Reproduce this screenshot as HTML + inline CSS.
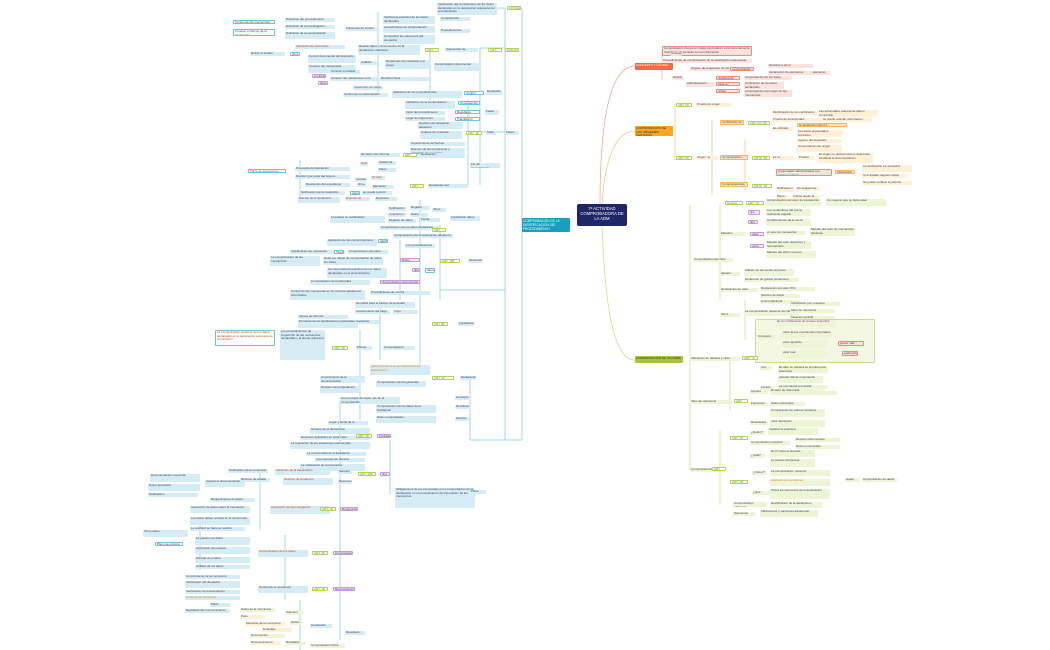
<!DOCTYPE html>
<html><head><meta charset="utf-8"><style>
body{margin:0;background:#fff;}
#c{position:relative;width:1050px;height:650px;overflow:hidden;background:#fff;font-family:"Liberation Sans",sans-serif;}
#c div{position:absolute;font-size:3px;line-height:3.6px;overflow:hidden;border-radius:1px;color:#445;padding:0 1px;box-sizing:border-box;}
.b{background:#d5ecf5;}
.bo{background:#fff;border:0.6px solid #6cc3dc;}
.r{background:#fde2dc;}
.ro{background:#fde2dc;border:0.6px solid #f08c7a;}
.o{background:#fff0d6;}
.oo{background:#ffe3b5;border:0.6px solid #f5b65c;}
.g{background:#eef4d6;}
.go{background:#fff;border:0.6px solid #b5cf5a;color:#5a9a20!important;}
.p{background:#f3e6f7;border:0.6px solid #c89ad8;}
svg{position:absolute;left:0;top:0;}
</style></head><body><div id="c">
<svg width="1050" height="650" fill="none" stroke-width="0.7">
<g stroke="#7fcbe0">
<path d="M570 225 C545 225 530 230 522 225"/>
<path d="M522 8 V440"/><path d="M505 8 V440"/>
<path d="M480 48 V185"/><path d="M430 48 V100"/><path d="M378 12 V95"/>
<path d="M468 100 V185"/><path d="M420 200 V375"/><path d="M440 225 V300"/>
<path d="M300 160 V200"/><path d="M400 240 V300"/><path d="M380 300 V360"/>
<path d="M470 380 V440"/><path d="M390 440 V495"/><path d="M360 330 V420"/>
<path d="M340 400 V640"/><path d="M260 470 V530"/><path d="M285 535 V600"/>
<path d="M300 600 V650"/><path d="M200 520 V570"/>
<path d="M522 440 H470"/><path d="M505 8 H495"/><path d="M505 48 H480"/><path d="M505 132 H480"/><path d="M505 290 H440"/>
</g>
<g stroke="#f4a08c"><path d="M600 204 C600 120 610 66 635 66"/><path d="M672 66 H662 M662 50 V80"/></g>
<g stroke="#f7c27a"><path d="M602 204 C605 160 615 131 635 131"/><path d="M675 104 V160 M712 120 V195 M745 140 V190"/></g>
<g stroke="#cddc7a"><path d="M602 226 C605 300 612 360 635 360"/><path d="M690 205 V470 M720 205 V300 M745 300 V340 M730 360 V410 M720 430 V505"/></g>
</svg>

<!-- center -->
<div style="left:577px;top:204px;width:50px;height:22px;background:#1f2668;color:#fff;font-size:4.2px;line-height:5px;text-align:center;padding-top:2px;border-radius:2px">7ª ACTIVIDAD COMPROBADORA DE LA ADM</div>
<div style="left:522px;top:218px;width:48px;height:14px;background:#189fbf;color:#fff;font-size:3.2px;line-height:3.8px;padding-top:2px">COMPROBACIÓN DE LA IDENTIFICACIÓN DEL PROCEDIMIENTO</div>
<div style="left:635px;top:63px;width:38px;height:7px;background:#f26b4d;color:#fff;padding-top:1px">CONCEPTO Y GLOBAL</div>
<div style="left:635px;top:126px;width:38px;height:10px;background:#f5a623;color:#333;padding-top:1px">COMPROBACIÓN DE LOS ORIGENES VENTANAS</div>
<div style="left:635px;top:356px;width:48px;height:7px;background:#a9c43b;color:#333;padding-top:1px">COMPROBACIÓN DE VALORES</div>

<!-- red branch -->
<div class="ro" style="left:662px;top:46px;width:90px;height:10px">Comprobación de que el código de producto está correctamente clasificado de acuerdo con la información</div>
<div class="r" style="left:662px;top:59px;width:90px;height:4px">Procedimiento de comprobación de la clasificación arancelaria</div>
<div class="r" style="left:670px;top:52px;width:12px;height:4px">Concepto</div>
<div class="r" style="left:690px;top:67px;width:50px;height:4px">Órgano de inspección de los Tributos</div>
<div class="ro" style="left:730px;top:67px;width:24px;height:4px">comprobación</div>
<div class="r" style="left:768px;top:64px;width:45px;height:4px">Revisión a priori</div>
<div class="r" style="left:768px;top:71px;width:50px;height:4px">declaración de elementos</div>
<div class="r" style="left:812px;top:71px;width:18px;height:4px">elemento</div>
<div class="r" style="left:672px;top:76px;width:12px;height:4px">Global</div>
<div class="r" style="left:686px;top:82px;width:28px;height:5px">Administración</div>
<div class="ro" style="left:716px;top:76px;width:24px;height:4px">clasificación</div>
<div class="ro" style="left:716px;top:82px;width:24px;height:4px">valor en aduana</div>
<div class="ro" style="left:716px;top:89px;width:24px;height:4px">origen</div>
<div class="r" style="left:744px;top:76px;width:48px;height:4px">comprobación de los datos</div>
<div class="r" style="left:744px;top:82px;width:40px;height:7px">verificación de los datos declarados</div>
<div class="r" style="left:744px;top:90px;width:48px;height:7px">comprobación del origen de las mercancías</div>

<!-- orange -->
<div class="go" style="left:676px;top:103px;width:16px;height:4px">ART. 69 UCDC</div>
<div class="o" style="left:696px;top:103px;width:35px;height:4px">Prueba de origen preferencial</div>
<div class="oo" style="left:720px;top:120px;width:24px;height:5px">Certificados de origen</div>
<div class="go" style="left:748px;top:121px;width:22px;height:4px">ART. 64 / 65 UCDC</div>
<div class="o" style="left:772px;top:111px;width:45px;height:4px">Modificación de los certificados</div>
<div class="o" style="left:818px;top:110px;width:60px;height:7px">Las autoridades aduaneras deben comprobar</div>
<div class="o" style="left:772px;top:118px;width:50px;height:4px">Prueba de autenticidad</div>
<div class="o" style="left:822px;top:118px;width:50px;height:4px">se puede solicitar información</div>
<div class="o" style="left:772px;top:127px;width:20px;height:4px">Es utilizado para</div>
<div class="oo" style="left:797px;top:123px;width:50px;height:4px">la declaración del CT</div>
<div class="o" style="left:797px;top:130px;width:45px;height:7px">Los datos presentados coinciden</div>
<div class="o" style="left:797px;top:139px;width:45px;height:4px">registro del despacho</div>
<div class="o" style="left:797px;top:145px;width:45px;height:7px">comprobación de origen</div>
<div class="go" style="left:676px;top:156px;width:16px;height:4px">ART. 59 UCDC</div>
<div class="o" style="left:696px;top:156px;width:22px;height:4px">Origen no preferente</div>
<div class="oo" style="left:720px;top:155px;width:28px;height:5px">Comprobación del origen</div>
<div class="go" style="left:752px;top:156px;width:18px;height:4px">ARTS. 59-63</div>
<div class="o" style="left:772px;top:156px;width:22px;height:4px">es no preferente</div>
<div class="o" style="left:798px;top:156px;width:16px;height:4px">Prueba</div>
<div class="o" style="left:818px;top:153px;width:55px;height:10px">El origen no preferencial se determina mediante la documentación</div>
<div class="ro" style="left:776px;top:169px;width:56px;height:7px">Cooperación administrativa con terceros países</div>
<div class="oo" style="left:835px;top:170px;width:20px;height:4px">Verificación</div>
<div class="o" style="left:862px;top:165px;width:50px;height:7px">La verificación es necesaria</div>
<div class="o" style="left:862px;top:174px;width:45px;height:4px">Si el Estado requiere datos</div>
<div class="o" style="left:862px;top:181px;width:50px;height:4px">Se puede verificar el país de exportación</div>
<div class="oo" style="left:720px;top:182px;width:28px;height:5px">Comprobaciones posteriores</div>
<div class="go" style="left:752px;top:184px;width:20px;height:4px">ARTS. 48 UCDC</div>
<div class="o" style="left:776px;top:187px;width:18px;height:5px">Notificación</div>
<div class="o" style="left:796px;top:187px;width:24px;height:4px">sin aceptar las notificaciones</div>
<div class="o" style="left:776px;top:195px;width:12px;height:4px">Plazo</div>
<div class="o" style="left:792px;top:195px;width:28px;height:4px">3 años desde la exportación</div>

<!-- green -->
<div class="g" style="left:693px;top:258px;width:40px;height:4px">Comprobación del valor</div>
<div class="go" style="left:725px;top:201px;width:18px;height:4px">Hechos</div>
<div class="go" style="left:746px;top:201px;width:18px;height:4px">ART. 70 UCDC</div>
<div class="g" style="left:766px;top:199px;width:55px;height:7px">Comprobación del valor de transacción</div>
<div class="g" style="left:826px;top:199px;width:60px;height:7px">Un negocio que se debe tasar</div>
<div class="p" style="left:748px;top:210px;width:12px;height:5px">tipo</div>
<div class="g" style="left:766px;top:209px;width:45px;height:7px">Los vendedores del precio realmente pagado</div>
<div class="p" style="left:748px;top:220px;width:10px;height:4px">tipo</div>
<div class="g" style="left:766px;top:219px;width:45px;height:7px">condicionantes de la venta</div>
<div class="g" style="left:720px;top:232px;width:26px;height:4px">Métodos</div>
<div class="p" style="left:750px;top:232px;width:14px;height:4px">valor</div>
<div class="g" style="left:766px;top:231px;width:40px;height:4px">el valor de transacción</div>
<div class="g" style="left:810px;top:228px;width:45px;height:8px">Método del valor de mercancías idénticas</div>
<div class="p" style="left:750px;top:244px;width:14px;height:4px">otros</div>
<div class="g" style="left:766px;top:241px;width:45px;height:8px">Método del valor deductivo y reconstruido</div>
<div class="g" style="left:766px;top:251px;width:50px;height:7px">Método del último recurso</div>
<div class="g" style="left:720px;top:272px;width:20px;height:4px">Ajustes</div>
<div class="g" style="left:744px;top:269px;width:50px;height:7px">Adición de elementos al precio</div>
<div class="g" style="left:744px;top:278px;width:55px;height:4px">Deducción de gastos posteriores</div>
<div class="g" style="left:720px;top:288px;width:38px;height:4px">Declaración de valor</div>
<div class="g" style="left:760px;top:287px;width:55px;height:4px">Declaración del valor DV1</div>
<div class="g" style="left:760px;top:294px;width:40px;height:4px">Sección de datos</div>
<div class="g" style="left:760px;top:300px;width:40px;height:4px">Anexo adicional</div>
<div class="g" style="left:720px;top:313px;width:20px;height:4px">Otros</div>
<div class="g" style="left:744px;top:310px;width:55px;height:6px">La comprobación posterior del valor</div>
<div class="g" style="left:790px;top:302px;width:50px;height:4px">Verificación por muestreo</div>
<div class="g" style="left:790px;top:309px;width:45px;height:4px">Valor de referencia</div>
<div class="g" style="left:790px;top:316px;width:45px;height:4px">Tasación pericial</div>
<div class="g" style="left:790px;top:323px;width:50px;height:4px">Estudio de la vinculación</div>
<div class="g" style="left:790px;top:330px;width:60px;height:4px">Otras comprobaciones del valor</div>
<div class="g" style="left:755px;top:319px;width:120px;height:44px;border:0.6px solid #cbdb8a;background:#f4f8e2"></div>
<div class="g" style="left:757px;top:335px;width:18px;height:4px">Concepto</div>
<div class="g" style="left:776px;top:320px;width:60px;height:7px;color:#8a3aa8!important">Es la modificación de la base imponible</div>
<div class="g" style="left:782px;top:331px;width:50px;height:7px">valor de las mercancías importadas</div>
<div class="g" style="left:782px;top:341px;width:45px;height:7px">valor ajustado</div>
<div class="ro" style="left:838px;top:341px;width:26px;height:5px">precio más elevado</div>
<div class="g" style="left:782px;top:351px;width:45px;height:7px">valor real</div>
<div class="ro" style="left:842px;top:351px;width:16px;height:5px">estimación</div>
<div class="g" style="left:690px;top:357px;width:50px;height:4px">Valoración en aduana y otros elementos</div>
<div class="go" style="left:742px;top:356px;width:16px;height:4px">ART. 70</div>
<div class="g" style="left:760px;top:366px;width:12px;height:4px">Uso</div>
<div class="g" style="left:778px;top:366px;width:50px;height:7px">El valor en aduana se emplea para aranceles</div>
<div class="g" style="left:778px;top:376px;width:45px;height:7px">calcular IVA de importación</div>
<div class="g" style="left:760px;top:386px;width:14px;height:4px">Límites</div>
<div class="g" style="left:778px;top:385px;width:50px;height:4px">La mercancía importada</div>
<div class="g" style="left:778px;top:391px;width:60px;height:4px">Comprobación del valor declarado</div>
<div class="g" style="left:690px;top:400px;width:42px;height:4px">Valor de referencia</div>
<div class="go" style="left:734px;top:399px;width:14px;height:4px">ART. 72</div>
<div class="g" style="left:750px;top:390px;width:18px;height:4px">Ajustes</div>
<div class="g" style="left:770px;top:389px;width:55px;height:6px">El valor de referencia</div>
<div class="g" style="left:750px;top:402px;width:18px;height:4px">Funciones</div>
<div class="g" style="left:770px;top:402px;width:35px;height:4px">Datos relevantes</div>
<div class="g" style="left:770px;top:409px;width:55px;height:8px">Comparación de valores similares</div>
<div class="g" style="left:750px;top:421px;width:18px;height:4px">Resultados</div>
<div class="g" style="left:770px;top:420px;width:55px;height:7px">valor declarado</div>
<div class="g" style="left:690px;top:468px;width:30px;height:4px">Comprobaciones</div>
<div class="go" style="left:712px;top:467px;width:14px;height:4px">ART. 48</div>
<div class="go" style="left:730px;top:436px;width:18px;height:4px">ART. 48 UCDC</div>
<div class="g" style="left:750px;top:431px;width:15px;height:4px">¿Quién?</div>
<div class="g" style="left:768px;top:428px;width:50px;height:7px">Verificar la exactitud</div>
<div class="g" style="left:750px;top:441px;width:40px;height:4px">Comprobación posterior</div>
<div class="g" style="left:795px;top:438px;width:45px;height:4px">Revisión documentos</div>
<div class="g" style="left:795px;top:445px;width:45px;height:4px">Datos comerciales</div>
<div class="g" style="left:750px;top:454px;width:15px;height:4px">¿Cuál?</div>
<div class="g" style="left:770px;top:450px;width:45px;height:7px">El CT tiene la facultad</div>
<div class="g" style="left:770px;top:459px;width:45px;height:8px">se podrán comprobar</div>
<div class="go" style="left:730px;top:480px;width:18px;height:4px">ART. 48 UCDC</div>
<div class="g" style="left:752px;top:471px;width:15px;height:4px">¿Cómo?</div>
<div class="g" style="left:770px;top:470px;width:60px;height:6px">La comprobación posterior</div>
<div class="g" style="left:770px;top:479px;width:60px;height:7px;color:#e08a20!important">Auditoría de la empresa</div>
<div class="g" style="left:845px;top:478px;width:15px;height:4px">sujeto</div>
<div class="g" style="left:862px;top:478px;width:35px;height:4px">comprobación de datos</div>
<div class="g" style="left:752px;top:491px;width:18px;height:4px">¿Qué datos?</div>
<div class="g" style="left:770px;top:489px;width:60px;height:10px">Todos los elementos de la declaración</div>
<div class="g" style="left:733px;top:502px;width:34px;height:5px">Comprobación adicional</div>
<div class="g" style="left:770px;top:502px;width:52px;height:6px">Rectificación de la declaración</div>
<div class="g" style="left:733px;top:512px;width:22px;height:4px">Sanciones</div>
<div class="g" style="left:760px;top:510px;width:58px;height:7px">Infracciones y sanciones aduaneras</div>

<!-- left blue tree -->
<div class="go" style="left:507px;top:6px;width:14px;height:4px">CONCEPTO</div>
<div class="b" style="left:437px;top:3px;width:60px;height:12px">Verificación del cumplimiento de los datos declarados en la declaración aduanera del procedimiento</div>
<div class="b" style="left:383px;top:16px;width:52px;height:8px">Verificar la exactitud de los datos declarados</div>
<div class="b" style="left:383px;top:26px;width:52px;height:7px">procedimiento de comprobación</div>
<div class="b" style="left:383px;top:35px;width:52px;height:9px">Comprobar los elementos del despacho</div>
<div class="b" style="left:440px;top:17px;width:30px;height:4px">Competencia</div>
<div class="b" style="left:440px;top:29px;width:30px;height:4px">Procedimientos</div>
<div class="b" style="left:345px;top:27px;width:32px;height:4px">Funciones de control</div>
<div class="b" style="left:285px;top:18px;width:50px;height:4px">Definición del procedimiento</div>
<div class="b" style="left:285px;top:25px;width:50px;height:4px">Definición de la investigación</div>
<div class="b" style="left:285px;top:32px;width:50px;height:7px">Definición de la comprobación</div>
<div class="bo" style="left:233px;top:20px;width:42px;height:4px">Control de las mercancías</div>
<div class="bo" style="left:233px;top:29px;width:42px;height:7px">Conocer el tiempo de la declaración</div>
<div class="go" style="left:488px;top:48px;width:14px;height:4px">ART. 48 UCDC</div>
<div class="go" style="left:425px;top:48px;width:14px;height:4px">ART.</div>
<div class="b" style="left:445px;top:48px;width:33px;height:4px">Adquisición de derechos</div>
<div class="go" style="left:505px;top:48px;width:14px;height:4px">Definición</div>
<div class="b" style="left:358px;top:45px;width:62px;height:10px">Revisar datos y documentos de la declaración aduanera</div>
<div class="b" style="left:295px;top:45px;width:50px;height:4px;color:#d04020!important">Aplicación de elementos</div>
<div class="bo" style="left:290px;top:52px;width:10px;height:4px">tipos</div>
<div class="b" style="left:250px;top:52px;width:35px;height:4px">Definir el ámbito</div>
<div class="b" style="left:308px;top:55px;width:48px;height:8px">Control documental del despacho</div>
<div class="b" style="left:308px;top:65px;width:48px;height:8px">Conocer las mercancías</div>
<div class="b" style="left:360px;top:61px;width:18px;height:4px">Análisis</div>
<div class="b" style="left:385px;top:60px;width:44px;height:9px">Revisiones del contenido y el origen</div>
<div class="b" style="left:434px;top:63px;width:45px;height:8px">Comprobación documental</div>
<div class="b" style="left:330px;top:70px;width:30px;height:4px">Conocer el estado</div>
<div class="b" style="left:330px;top:77px;width:50px;height:4px">Conocer las mercancías en la declaración</div>
<div class="p" style="left:312px;top:74px;width:14px;height:4px">Controles</div>
<div class="p" style="left:318px;top:81px;width:10px;height:4px">tipos</div>
<div class="b" style="left:380px;top:77px;width:50px;height:4px">Revisión física</div>
<div class="b" style="left:353px;top:86px;width:30px;height:4px;color:#8a3aa8!important">Inspección de carga</div>
<div class="b" style="left:343px;top:93px;width:45px;height:4px">Control de los documentos</div>
<div class="b" style="left:392px;top:91px;width:70px;height:7px">Aplicación de los procedimientos</div>
<div class="bo" style="left:464px;top:91px;width:20px;height:4px">Control</div>
<div class="b" style="left:486px;top:90px;width:16px;height:5px">Desarrollo</div>
<div class="b" style="left:405px;top:101px;width:50px;height:8px">Aplicación de la comprobación</div>
<div class="bo" style="left:458px;top:101px;width:22px;height:4px">Competencia</div>
<div class="b" style="left:405px;top:111px;width:40px;height:4px">Inicio del procedimiento</div>
<div class="bo" style="left:455px;top:110px;width:25px;height:4px">Resultado</div>
<div class="b" style="left:405px;top:117px;width:40px;height:4px">Lugar de inspección</div>
<div class="bo" style="left:455px;top:117px;width:25px;height:4px">Tramitación</div>
<div class="b" style="left:485px;top:110px;width:14px;height:5px">Fases</div>
<div class="b" style="left:505px;top:131px;width:14px;height:4px">Fases</div>
<div class="b" style="left:418px;top:122px;width:45px;height:7px">Revisión del despacho aduanero</div>
<div class="b" style="left:420px;top:131px;width:42px;height:8px">Análisis de muestras</div>
<div class="go" style="left:466px;top:131px;width:16px;height:4px">ART. 48</div>
<div class="b" style="left:486px;top:131px;width:10px;height:4px">Inicio</div>
<div class="b" style="left:410px;top:142px;width:55px;height:4px">Conocimiento de hechos</div>
<div class="b" style="left:410px;top:148px;width:55px;height:10px">Examen de las mercancías y extracción de muestras</div>
<div class="b" style="left:360px;top:153px;width:40px;height:4px">Remisión del informe</div>
<div class="go" style="left:403px;top:153px;width:14px;height:4px">ART. 191</div>
<div class="b" style="left:420px;top:153px;width:40px;height:4px">Resolución</div>
<div class="b" style="left:470px;top:163px;width:30px;height:5px">Fin del procedimiento</div>
<div class="b" style="left:360px;top:162px;width:8px;height:4px;color:#d04020!important">Notif.</div>
<div class="b" style="left:378px;top:161px;width:18px;height:4px">Audiencia</div>
<div class="b" style="left:378px;top:168px;width:18px;height:4px">Plazo</div>
<div class="b" style="left:295px;top:167px;width:55px;height:4px">Propuesta de liquidación</div>
<div class="bo" style="left:248px;top:169px;width:38px;height:4px;color:#c04a8a!important">Plazo de alegaciones</div>
<div class="b" style="left:295px;top:175px;width:55px;height:4px">Revisión por parte del órgano</div>
<div class="b" style="left:355px;top:178px;width:12px;height:4px">recurso</div>
<div class="b" style="left:371px;top:176px;width:14px;height:4px;color:#d04020!important">10 días</div>
<div class="b" style="left:305px;top:183px;width:45px;height:4px">Resolución del expediente</div>
<div class="b" style="left:357px;top:183px;width:10px;height:4px">firme</div>
<div class="b" style="left:372px;top:185px;width:22px;height:4px">Ejecución</div>
<div class="go" style="left:410px;top:184px;width:14px;height:4px">ART. 190</div>
<div class="b" style="left:428px;top:184px;width:40px;height:4px">Resolución del procedimiento</div>
<div class="b" style="left:300px;top:191px;width:45px;height:4px">Notificación de la resolución</div>
<div class="bo" style="left:350px;top:191px;width:10px;height:4px">plazo</div>
<div class="b" style="left:362px;top:191px;width:30px;height:4px">se puede recurrir</div>
<div class="b" style="left:298px;top:197px;width:42px;height:6px;color:#8a3aa8!important">Efectos de la liquidación</div>
<div class="b" style="left:345px;top:197px;width:25px;height:4px;color:#d04020!important">Recurso de reposición</div>
<div class="b" style="left:375px;top:197px;width:22px;height:4px">Recursos</div>
<div class="b" style="left:388px;top:207px;width:18px;height:4px">Notificación</div>
<div class="b" style="left:388px;top:213px;width:18px;height:4px;color:#8a3aa8!important">Ampliación</div>
<div class="b" style="left:410px;top:206px;width:20px;height:4px">Registro</div>
<div class="b" style="left:410px;top:213px;width:18px;height:4px">Datos</div>
<div class="b" style="left:432px;top:208px;width:14px;height:4px">Otros</div>
<div class="b" style="left:330px;top:216px;width:55px;height:7px">Los datos no rectificables</div>
<div class="b" style="left:388px;top:219px;width:28px;height:4px">Registro de datos</div>
<div class="b" style="left:420px;top:218px;width:20px;height:4px">Fecha</div>
<div class="b" style="left:450px;top:216px;width:30px;height:5px">Liquidación datos</div>
<div class="b" style="left:380px;top:226px;width:60px;height:4px">Comprobación de los datos declarados</div>
<div class="go" style="left:432px;top:228px;width:14px;height:4px">ART.</div>
<div class="b" style="left:393px;top:234px;width:60px;height:4px">Comprobación de la declaración aduanera</div>
<div class="b" style="left:327px;top:239px;width:50px;height:7px">Aplicación de las comprobaciones</div>
<div class="bo" style="left:378px;top:239px;width:10px;height:4px">AEAT</div>
<div class="b" style="left:405px;top:244px;width:30px;height:4px">Los procedimientos</div>
<div class="b" style="left:290px;top:250px;width:55px;height:4px">Clasificación de mercancía</div>
<div class="bo" style="left:334px;top:250px;width:10px;height:4px">Tipos</div>
<div class="b" style="left:348px;top:250px;width:40px;height:4px">Comprobación del valor</div>
<div class="b" style="left:270px;top:256px;width:50px;height:10px">La comprobación de las mercancías</div>
<div class="b" style="left:323px;top:257px;width:60px;height:8px">Debe ser objeto de comprobación de todos los datos</div>
<div class="p" style="left:400px;top:258px;width:20px;height:4px">Datos</div>
<div class="go" style="left:440px;top:259px;width:20px;height:4px">ART. 188</div>
<div class="b" style="left:468px;top:259px;width:14px;height:4px">Desarrollo</div>
<div class="b" style="left:327px;top:268px;width:60px;height:10px">Se comprueba la exactitud de los datos declarados en el procedimiento</div>
<div class="p" style="left:412px;top:268px;width:8px;height:4px">tipo</div>
<div class="bo" style="left:425px;top:268px;width:10px;height:5px">datos</div>
<div class="b" style="left:310px;top:280px;width:60px;height:5px">Comprobación de la identidad</div>
<div class="p" style="left:380px;top:280px;width:40px;height:4px">Comprobación documental</div>
<div class="b" style="left:290px;top:290px;width:75px;height:10px">Control de las mercancías en los recintos aduaneros autorizados</div>
<div class="b" style="left:370px;top:291px;width:60px;height:4px">Procedimiento de control</div>
<div class="b" style="left:355px;top:302px;width:60px;height:6px">Se utiliza para el cálculo de la deuda</div>
<div class="b" style="left:355px;top:310px;width:35px;height:4px">Conocimiento del pago</div>
<div class="b" style="left:393px;top:310px;width:25px;height:4px;color:#d04020!important">Pago</div>
<div class="b" style="left:298px;top:315px;width:50px;height:4px">Interés de demora</div>
<div class="b" style="left:298px;top:320px;width:60px;height:8px">El interés de las liquidaciones practicadas</div>
<div class="b" style="left:355px;top:320px;width:25px;height:4px">Garantías</div>
<div class="go" style="left:432px;top:322px;width:16px;height:4px">ART. 88</div>
<div class="b" style="left:458px;top:322px;width:16px;height:4px">Liquidación</div>
<div class="b" style="left:280px;top:330px;width:45px;height:30px">Los procedimientos de inspección de las mercancías declaradas y la deuda aduanera</div>
<div class="bo" style="left:215px;top:330px;width:60px;height:16px;color:#d04020!important">La comprobación posterior de los datos declarados en la declaración aduanera de importación</div>
<div class="go" style="left:332px;top:346px;width:16px;height:4px">ART. 48</div>
<div class="b" style="left:356px;top:346px;width:16px;height:4px">Plazos</div>
<div class="b" style="left:383px;top:346px;width:32px;height:4px">Comprobación posterior</div>
<div class="b" style="left:370px;top:365px;width:60px;height:10px;color:#e08a20!important">Aplicación de la comprobación de las liquidaciones</div>
<div class="b" style="left:320px;top:376px;width:45px;height:7px">Conocimiento de la documentación</div>
<div class="b" style="left:376px;top:381px;width:50px;height:6px">Comprobación de las garantías</div>
<div class="go" style="left:432px;top:376px;width:22px;height:4px">ART. 48 UCDC</div>
<div class="b" style="left:460px;top:376px;width:16px;height:4px">Declaración</div>
<div class="b" style="left:320px;top:386px;width:40px;height:7px">Revisión de la liquidación</div>
<div class="b" style="left:340px;top:397px;width:60px;height:7px">Con el objeto de hacer uso de la comprobación</div>
<div class="b" style="left:455px;top:396px;width:16px;height:4px">Concepto</div>
<div class="b" style="left:376px;top:405px;width:60px;height:8px">Comprobación de los datos de la liquidación</div>
<div class="b" style="left:455px;top:405px;width:14px;height:4px">Rectificación</div>
<div class="b" style="left:376px;top:416px;width:60px;height:7px">Datos comprobados</div>
<div class="b" style="left:455px;top:417px;width:14px;height:4px">Efectos</div>
<div class="b" style="left:328px;top:421px;width:40px;height:4px">Lugar y fecha de la liquidación</div>
<div class="b" style="left:310px;top:428px;width:60px;height:6px">Número de la declaración</div>
<div class="b" style="left:300px;top:436px;width:70px;height:4px">Recursos aplicables en cada caso</div>
<div class="go" style="left:356px;top:434px;width:16px;height:4px">ART. 48</div>
<div class="p" style="left:377px;top:434px;width:14px;height:4px">Liquidación</div>
<div class="b" style="left:290px;top:442px;width:80px;height:7px">La regulación de las situaciones intervenidas</div>
<div class="b" style="left:306px;top:452px;width:60px;height:4px">La conformidad de la liquidación</div>
<div class="b" style="left:315px;top:458px;width:50px;height:4px">Los intereses de demora</div>
<div class="b" style="left:300px;top:464px;width:65px;height:7px">La notificación de la resolución</div>
<div class="b" style="left:228px;top:469px;width:40px;height:4px">Notificación de la resolución</div>
<div class="b" style="left:275px;top:469px;width:55px;height:6px;color:#d04020!important">Infracción de la declaración</div>
<div class="b" style="left:338px;top:470px;width:14px;height:4px">Sanción</div>
<div class="go" style="left:358px;top:472px;width:18px;height:4px">ART. 108</div>
<div class="p" style="left:380px;top:472px;width:10px;height:4px">tipo</div>
<div class="b" style="left:240px;top:478px;width:30px;height:4px">Recurso de alzada</div>
<div class="b" style="left:283px;top:478px;width:50px;height:7px;color:#d04020!important">Recurso de la sanción</div>
<div class="b" style="left:338px;top:480px;width:14px;height:4px">Recursos</div>
<div class="b" style="left:395px;top:488px;width:80px;height:20px">Obligaciones de los interesados en la comprobación de la declaración en el procedimiento de importación de las mercancías</div>
<div class="b" style="left:470px;top:490px;width:16px;height:4px">Plazo</div>
<div class="b" style="left:150px;top:474px;width:50px;height:8px">Documentación requerida</div>
<div class="b" style="left:148px;top:484px;width:52px;height:7px">Datos aportados</div>
<div class="b" style="left:148px;top:493px;width:50px;height:4px">Notificación</div>
<div class="b" style="left:205px;top:480px;width:40px;height:7px">Aportar la documentación</div>
<div class="b" style="left:210px;top:498px;width:45px;height:4px">Requerimiento de datos</div>
<div class="b" style="left:190px;top:506px;width:60px;height:7px">Aportación de datos sobre la mercancía</div>
<div class="b" style="left:190px;top:517px;width:60px;height:8px">Los datos deben constar en el documento</div>
<div class="b" style="left:190px;top:527px;width:55px;height:4px">La solicitud se hará por escrito</div>
<div class="b" style="left:270px;top:506px;width:60px;height:8px;color:#d04020!important">Aportación de documentación</div>
<div class="go" style="left:320px;top:507px;width:16px;height:4px">ART. 48</div>
<div class="p" style="left:340px;top:507px;width:18px;height:4px">Requerimiento</div>
<div class="b" style="left:143px;top:530px;width:45px;height:7px">Otros datos</div>
<div class="bo" style="left:155px;top:542px;width:28px;height:4px">Plazo de entrega</div>
<div class="b" style="left:195px;top:537px;width:55px;height:8px">La petición de datos</div>
<div class="b" style="left:195px;top:547px;width:55px;height:7px">Aportación de pruebas</div>
<div class="b" style="left:195px;top:557px;width:55px;height:6px">Periodo de prueba</div>
<div class="b" style="left:195px;top:565px;width:55px;height:4px">Análisis de los datos</div>
<div class="b" style="left:258px;top:550px;width:50px;height:7px;color:#d04020!important">Comprobación de los datos</div>
<div class="go" style="left:312px;top:551px;width:16px;height:4px">ART. 48</div>
<div class="p" style="left:333px;top:551px;width:20px;height:4px">Comprobación</div>
<div class="b" style="left:185px;top:575px;width:55px;height:4px">Conocimiento de la mercancía</div>
<div class="b" style="left:185px;top:581px;width:55px;height:7px">Verificación del despacho</div>
<div class="b" style="left:185px;top:590px;width:55px;height:4px">Verificación de la descripción</div>
<div class="b" style="left:185px;top:596px;width:55px;height:4px;color:#e08a20!important">Datos de la mercancía</div>
<div class="b" style="left:258px;top:586px;width:50px;height:7px">Control de la mercancía</div>
<div class="go" style="left:312px;top:587px;width:16px;height:4px">ART. 48</div>
<div class="p" style="left:333px;top:587px;width:22px;height:4px">Reconocimiento</div>
<div class="b" style="left:210px;top:603px;width:20px;height:4px">Plazo</div>
<div class="b" style="left:185px;top:609px;width:45px;height:4px">Resultado del reconocimiento</div>
<div class="g" style="left:240px;top:608px;width:35px;height:4px">Datos de la mercancía</div>
<div class="g" style="left:285px;top:611px;width:18px;height:4px">Volumen</div>
<div class="o" style="left:240px;top:615px;width:25px;height:4px">Peso</div>
<div class="o" style="left:245px;top:622px;width:40px;height:4px">Muestras de la mercancía</div>
<div class="g" style="left:290px;top:621px;width:12px;height:4px">Daños</div>
<div class="o" style="left:262px;top:628px;width:30px;height:4px">Embalaje</div>
<div class="g" style="left:250px;top:634px;width:35px;height:4px">Documentos</div>
<div class="o" style="left:250px;top:641px;width:30px;height:4px">Reconocimiento físico</div>
<div class="g" style="left:285px;top:641px;width:20px;height:4px">Resultado</div>
<div class="b" style="left:310px;top:624px;width:22px;height:4px">Conclusión</div>
<div class="b" style="left:345px;top:631px;width:20px;height:4px">Resultado</div>
<div class="g" style="left:310px;top:644px;width:35px;height:4px">Comprobación física</div>
</div></body></html>
